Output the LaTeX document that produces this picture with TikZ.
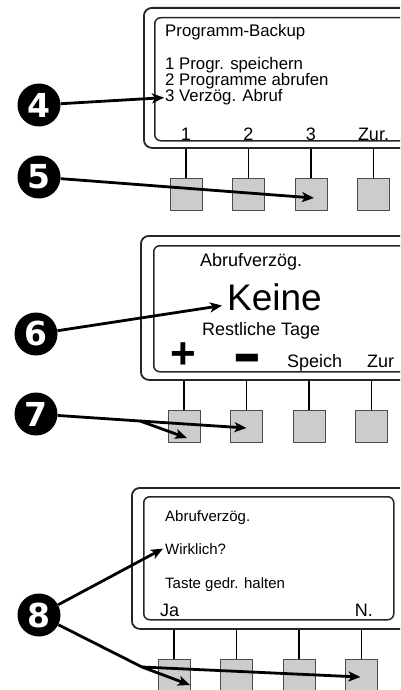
\documentclass[tikz,border=0pt]{standalone}
\usepackage{fontspec}
\usepackage{graphicx}
\setmainfont{Liberation Sans}
\newfontfamily\badgefont{DejaVu Sans}
\usetikzlibrary{positioning,arrows.meta}
\newcommand{\fsz}[1]{\fontsize{#1}{#1}\selectfont}

\begin{document}
\begin{tikzpicture}[x=1pt, y=-1pt, >={Stealth[length=12pt, width=10pt, inset=3pt]},
  case/.style={draw=black!85, line width=1.8pt, rounded corners=8pt, anchor=north west},
  lcd/.style={draw=black!85, line width=1.5pt, rounded corners=6pt, anchor=north west},
  key/.style={draw=black!70, fill=black!20, line width=0.9pt, minimum size=32pt, inner sep=0pt, outer sep=0pt},
  txt/.style={anchor=base west, inner sep=0pt},
  lbl/.style={anchor=base, inner sep=0pt, font=\fsz{18}},
  badge/.style={circle, fill=black, text=white, minimum size=43pt, inner sep=0pt, font=\badgefont\bfseries\fsz{33}},
  ptr/.style={->, line width=2.8pt, line join=round},
  stem/.style={line width=1.2pt}]
\useasboundingbox (0,0) rectangle (400,690);
\clip (0,0) rectangle (400,690);
\node[case, minimum width=280pt, minimum height=140pt] (case1) at (143,7) {};
\node[lcd, minimum width=262pt, minimum height=123pt] (lcd1) at (154,17) {};
\node[txt, font=\fsz{16.8}] (head1) at (165,37) {Programm-Backup};
\node[txt, font=\fsz{16.8}] (m1) at (165,69.5) {1 Progr. speichern};
\node[txt, font=\fsz{16.8}] (m2) at (165,86) {2 Programme abrufen};
\node[txt, font=\fsz{16.8}] (m3) at (165,102) {3 Verzög. Abruf};
\node[key] (a1) at (186,194) {};
\node[key, right=30.5pt of a1] (b1) {};
\node[key, right=30.5pt of b1] (c1) {};
\node[key, right=30.5pt of c1] (d1) {};
\foreach \k/\t in {a1/1,b1/2,c1/3,d1/Zur.} \node[lbl] (l\k) at ([yshift=1.5pt]\k |- lcd1.south) {\t};
\foreach \k in {a1,b1,c1,d1} \draw[stem] (\k.north) -- (\k.north |- case1.south);
\node[case, minimum width=280pt, minimum height=144pt] (case2) at (140,235) {};
\node[lcd, minimum width=262pt, minimum height=126pt] (lcd2) at (153,245) {};
\node[txt, font=\fsz{18}] (head2) at (200,266) {Abrufverzög.};
\node[txt, font=\fsz{37}] (keine) at (227,310) {Keine};
\node[txt, font=\fsz{18}] (rest) at (202,335) {Restliche Tage};
\node[key] (a2) at (184,426) {};
\node[key, right=30.5pt of a2] (b2) {};
\node[key, right=30.5pt of b2] (c2) {};
\node[key, right=30.5pt of c2] (d2) {};
\node[inner sep=0pt, font=\bfseries\fsz{44}] (plus) at (183,356) {+};
\node[inner sep=0pt, anchor=base, font=\bfseries\fsz{44}] (minus) at (247,381) {\smash{\scalebox{1}[1.6]{−}}};
\node[txt, font=\fsz{18}] (speich) at (287,367) {Speich};
\node[txt, font=\fsz{18}] (back2) at (367,367) {Zur};
\foreach \k in {a2,b2,c2,d2} \draw[stem] (\k.north) -- (\k.north |- case2.south);
\node[case, minimum width=285pt, minimum height=141pt] (case3) at (131,487) {};
\node[lcd, minimum width=250pt, minimum height=123pt] (lcd3) at (143,496) {};
\node[txt, font=\fsz{15}] (head3) at (165,521) {Abrufverzög.};
\node[txt, font=\fsz{15}] (wirk) at (165,554) {Wirklich?};
\node[txt, font=\fsz{15}] (hold) at (165,588) {Taste gedr. halten};
\node[txt, font=\fsz{18}] (ja) at (160,616) {Ja};
\node[txt, font=\fsz{18}, anchor=base east] (nein) at (373,616) {N.};
\node[key] (a3) at (174,675) {};
\node[key, right=30.5pt of a3] (b3) {};
\node[key, right=30.5pt of b3] (c3) {};
\node[key, right=30.5pt of c3] (d3) {};
\foreach \k in {a3,b3,c3,d3} \draw[stem] (\k.north) -- (\k.north |- case3.south);
\node[badge] (b4) at (39,105) {4};
\node[badge] (b5) at (39,177) {5};
\node[badge] (b6) at (36,334) {6};
\node[badge] (b7) at (36,414) {7};
\node[badge] (b8) at (39,615) {8};
\coordinate (j7) at (140,421);
\coordinate (j8) at (142,667);
\draw[ptr] (b4) -- ([xshift=-1pt]m3.west);
\draw[ptr] (b5) -- ([xshift=3pt,yshift=-4pt]c1.center);
\draw[ptr] (b6) -- ([xshift=-5pt,yshift=5pt]keine.south west);
\draw[ptr] (b7) -- (j7) -- ([xshift=3pt,yshift=-12pt]a2.center);
\draw[ptr] (j7) -- ([yshift=-2pt]b2.center);
\draw[ptr] (b8) -- ([xshift=-2pt]wirk.west);
\draw[ptr] (b8) -- (j8) -- ([xshift=16pt,yshift=-10pt]a3.center);
\draw[ptr] (j8) -- ([xshift=-1pt,yshift=-2pt]d3.center);
\end{tikzpicture}
\end{document}
